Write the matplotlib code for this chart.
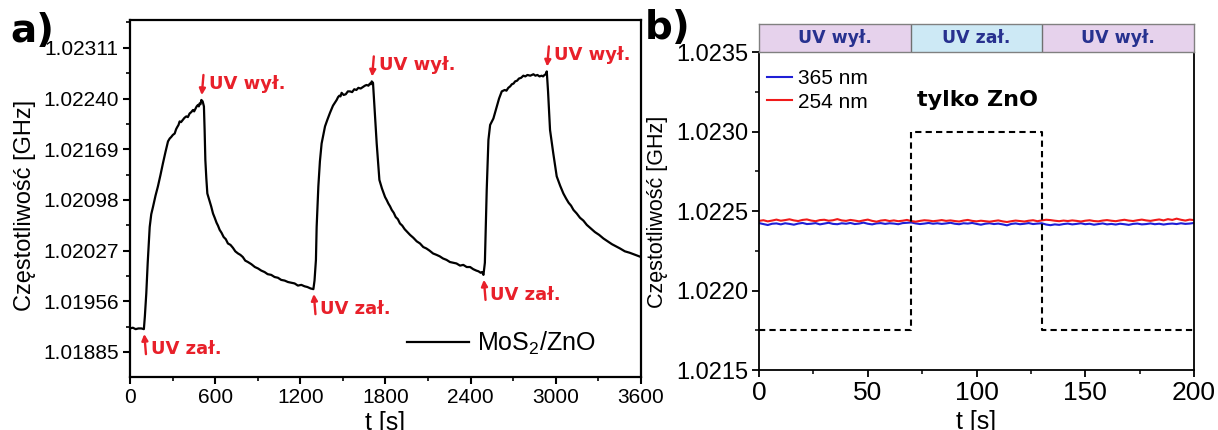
import numpy as np
import matplotlib
matplotlib.use('Agg')
import matplotlib.pyplot as plt
from matplotlib.ticker import AutoMinorLocator

plt.rcParams['font.family'] = ['Liberation Sans', 'DejaVu Sans']
plt.rcParams['mathtext.default'] = 'regular'

RED = '#e8202a'
NAVY = '#27318f'
BOLDFONT = ['DejaVu Sans']

# ---- panel a: MoS2/ZnO response, three UV cycles ----
cyc1_t = [0, 20, 40, 60, 80, 98, 105, 115, 125, 139, 150, 162, 180, 197, 215, 232, 250,
          268, 280, 290, 302, 315, 325, 333, 342, 350, 360, 372, 384, 397, 408, 420, 432, 444, 452,
          462, 470, 479, 485, 490, 497, 503, 512, 521, 526, 531, 538, 545,
          560, 572, 585, 597, 610, 620, 632, 645, 660, 675, 690, 708, 725, 742, 761, 778, 795, 812,
          831, 855, 880, 902, 925, 948, 970, 995, 1019, 1042, 1065, 1090, 1113, 1137, 1160, 1183,
          1207, 1230, 1250, 1272, 1292]
cyc1_f = [1.01918, 1.01919, 1.01917, 1.01918, 1.01918, 1.01917, 1.01935, 1.01967, 1.02010, 1.02060,
          1.02078, 1.02088, 1.02104, 1.02117, 1.02133, 1.02149, 1.02165,
          1.02180, 1.02184, 1.02186, 1.02189, 1.02191, 1.02197, 1.02200, 1.02203, 1.02208, 1.02207,
          1.02210, 1.02213, 1.02215, 1.02214, 1.02219, 1.02221, 1.02224, 1.02222,
          1.02226, 1.02229, 1.02231, 1.02229, 1.02233, 1.02232, 1.02238, 1.02236, 1.02229, 1.02195,
          1.02154, 1.02128, 1.02107,
          1.02097, 1.02089, 1.02079, 1.02073, 1.02066, 1.02062, 1.02056, 1.02052, 1.02046, 1.02043,
          1.02037, 1.02035, 1.02031, 1.02026, 1.02023, 1.02021, 1.02018, 1.02013,
          1.02011, 1.02008, 1.02004, 1.02002, 1.01999, 1.01997, 1.01994, 1.01993, 1.01990, 1.01989,
          1.01986, 1.01985, 1.01983, 1.01982, 1.01981, 1.01978,
          1.01979, 1.01977, 1.01976, 1.01974, 1.01973]
cyc2_t = [1300, 1310, 1315, 1327, 1338, 1350, 1374, 1390, 1409, 1430,
          1456, 1466, 1475, 1483, 1491, 1505, 1520, 1535, 1550, 1565, 1580, 1595, 1609, 1625, 1640,
          1655, 1667, 1680, 1690, 1697, 1703, 1712, 1725, 1738, 1757, 1775,
          1797, 1808, 1820, 1832, 1844, 1858, 1872, 1887, 1902, 1918, 1935, 1954, 1973, 1996, 2020,
          2043, 2066, 2088, 2110, 2135, 2160, 2182, 2205, 2230, 2254, 2277, 2300, 2325, 2348, 2372,
          2396, 2418, 2440, 2455, 2470, 2480, 2490]
cyc2_f = [1.01985, 1.02014, 1.02060, 1.02117, 1.02152, 1.02177, 1.02201, 1.02210, 1.02220, 1.02230,
          1.02238, 1.02242, 1.02244, 1.02243, 1.02248, 1.02245, 1.02246, 1.02250, 1.02250, 1.02249,
          1.02253, 1.02252, 1.02255, 1.02254, 1.02256,
          1.02258, 1.02259, 1.02258, 1.02261, 1.02260, 1.02264, 1.02262, 1.02220, 1.02177, 1.02126,
          1.02114,
          1.02102, 1.02098, 1.02093, 1.02089, 1.02084, 1.02080, 1.02074, 1.02071, 1.02065, 1.02062,
          1.02057, 1.02053, 1.02049, 1.02045, 1.02040,
          1.02037, 1.02032, 1.02030, 1.02027, 1.02023, 1.02021, 1.02019, 1.02016, 1.02014, 1.02011,
          1.02010, 1.02009, 1.02006, 1.02007, 1.02004,
          1.02004, 1.02001, 1.01999, 1.01998, 1.01996, 1.01997, 1.01993]
cyc3_t = [2500, 2508, 2513, 2525, 2537, 2560, 2584, 2600,
          2619, 2630, 2640, 2652, 2665, 2678, 2690, 2702, 2713, 2727, 2740, 2755, 2771, 2785, 2800,
          2820, 2842, 2856, 2870, 2885, 2900, 2910, 2920, 2928, 2936, 2945, 2959, 2970, 2982, 3006,
          3030, 3053, 3072, 3090, 3107, 3124, 3147, 3170, 3194, 3218, 3246, 3275, 3305, 3335, 3365,
          3395, 3423, 3452, 3486, 3520, 3560, 3600]
cyc3_f = [1.02010, 1.02070, 1.02112, 1.02182, 1.02203, 1.02212, 1.02229, 1.02240,
          1.02250, 1.02251, 1.02252, 1.02251, 1.02255, 1.02257, 1.02260, 1.02261, 1.02264, 1.02265,
          1.02268, 1.02269, 1.02272, 1.02271, 1.02273,
          1.02272, 1.02274, 1.02272, 1.02273, 1.02271, 1.02272, 1.02271, 1.02273, 1.02274, 1.02278,
          1.02250, 1.02196, 1.02180, 1.02163, 1.02131,
          1.02118, 1.02107, 1.02100, 1.02094, 1.02090, 1.02084, 1.02079, 1.02073, 1.02069, 1.02063,
          1.02058, 1.02053, 1.02049, 1.02044, 1.02040,
          1.02036, 1.02033, 1.02030, 1.02026, 1.02024, 1.02021, 1.02018]
uv_on_t = [98, 1292, 2490]
uv_off_t = [503, 1703, 2936]
a_xticks = [0, 600, 1200, 1800, 2400, 3000, 3600]
a_yticks = [1.01885, 1.01956, 1.02027, 1.02098, 1.02169, 1.02240, 1.02311]

# ---- panel b: ZnO only ----
b_t = np.arange(0, 201, 2)
b_365 = [1.022424, 1.022418, 1.022412, 1.022420, 1.022422, 1.022416, 1.022423, 1.022419, 1.022414, 1.022421, 1.022425,
         1.022418, 1.022420, 1.022424, 1.022416, 1.022421, 1.022426, 1.022419, 1.022417, 1.022423, 1.022420,
         1.022425, 1.022418, 1.022421, 1.022427, 1.022420, 1.022416, 1.022422, 1.022424, 1.022419, 1.022423,
         1.022421, 1.022417, 1.022424, 1.022426, 1.022428, 1.022422, 1.022418, 1.022421, 1.022425, 1.022420,
         1.022423, 1.022419, 1.022422, 1.022426, 1.022420, 1.022417, 1.022423, 1.022421, 1.022425, 1.022419,
         1.022414, 1.022420, 1.022423, 1.022418, 1.022421, 1.022416, 1.022410, 1.022419, 1.022422, 1.022417,
         1.022420, 1.022424, 1.022418, 1.022421, 1.022423, 1.022415, 1.022411, 1.022416, 1.022413, 1.022418,
         1.022421, 1.022416, 1.022419, 1.022423, 1.022417, 1.022420, 1.022414, 1.022418, 1.022422, 1.022416,
         1.022419, 1.022415, 1.022420, 1.022417, 1.022413, 1.022419, 1.022421, 1.022416, 1.022418, 1.022422,
         1.022417, 1.022420, 1.022415, 1.022419, 1.022421, 1.022418, 1.022423, 1.022419, 1.022421, 1.022425]
b_254 = [1.022438, 1.022442, 1.022435, 1.022440, 1.022446, 1.022439, 1.022443, 1.022448, 1.022441, 1.022437, 1.022444,
         1.022447, 1.022440, 1.022436, 1.022443, 1.022445, 1.022439, 1.022442, 1.022449, 1.022441, 1.022438,
         1.022444, 1.022440, 1.022435, 1.022441, 1.022446, 1.022438, 1.022433, 1.022440, 1.022443, 1.022437,
         1.022441, 1.022436, 1.022439, 1.022444, 1.022437, 1.022433, 1.022438, 1.022442, 1.022440, 1.022436,
         1.022439, 1.022443, 1.022438, 1.022441, 1.022437, 1.022434, 1.022440, 1.022444, 1.022438, 1.022435,
         1.022439, 1.022436, 1.022433, 1.022437, 1.022441, 1.022435, 1.022431, 1.022436, 1.022440, 1.022437,
         1.022434, 1.022439, 1.022442, 1.022436, 1.022441, 1.022445, 1.022443, 1.022439, 1.022436, 1.022440,
         1.022437, 1.022441, 1.022438, 1.022434, 1.022439, 1.022442, 1.022437, 1.022435, 1.022440, 1.022443,
         1.022439, 1.022436, 1.022441, 1.022445, 1.022440, 1.022437, 1.022442, 1.022446, 1.022441, 1.022438,
         1.022443, 1.022447, 1.022441, 1.022449, 1.022444, 1.022452, 1.022445, 1.022440, 1.022446, 1.022443]
step_t = [0, 70, 130, 200]
step_f = [1.02175, 1.02300, 1.02175, 1.02175]
phase_edges = [0, 70, 130, 200]
phase_labels = ['UV wył.', 'UV zał.', 'UV wył.']
phase_colors = ['#e6d2ec', '#cde9f5', '#e6d2ec']

a_t = cyc1_t + cyc2_t + cyc3_t
a_f = cyc1_f + cyc2_f + cyc3_f
assert len(a_t) == len(a_f)

fig = plt.figure(figsize=(12.18, 4.30), dpi=100)

# ================= a) =================
ax = fig.add_axes([0.1067, 0.1233, 0.4196, 0.8302])
ax.plot(a_t, a_f, color='black', lw=1.6, label='MoS$_2$/ZnO')
ax.set_xlim(0, 3600)
ax.set_ylim(1.0185, 1.0235)
ax.set_xticks(a_xticks)
ax.set_yticks(a_yticks)
ax.set_yticklabels(['%.5f' % v for v in a_yticks])
ax.xaxis.set_minor_locator(AutoMinorLocator(2))
ax.yaxis.set_minor_locator(AutoMinorLocator(2))
ax.tick_params(which='major', direction='out', length=5, width=1.5, labelsize=15, pad=3)
ax.tick_params(which='minor', direction='out', length=3, width=1.2)
for s in ax.spines.values():
    s.set_linewidth(1.6)
ax.set_ylabel('Częstotliwość [GHz]', fontsize=17)
ax.yaxis.set_label_coords(-0.184, 0.48)
ax.set_xlabel('t [s]', fontsize=18, va='top')
ax.xaxis.set_label_coords(0.5, -0.095)

# UV on / off arrows, placed at the curve itself
for t in uv_on_t:
    v = np.interp(t, a_t, a_f)
    ax.annotate('', xy=(t, v), xytext=(1.5, -18), textcoords='offset points',
                arrowprops=dict(arrowstyle='-|>', color=RED, lw=1.7, shrinkA=0, shrinkB=3.5, mutation_scale=9))
    ax.annotate('UV zał.', xy=(t, v), xytext=(5, -14.5), textcoords='offset points',
                ha='left', va='center', color=RED, fontsize=13, fontweight='bold', family=BOLDFONT)
for t in uv_off_t:
    v = np.interp(t, a_t, a_f)
    ax.annotate('', xy=(t, v), xytext=(1.5, 18), textcoords='offset points',
                arrowprops=dict(arrowstyle='-|>', color=RED, lw=1.7, shrinkA=0, shrinkB=3.5, mutation_scale=9))
    ax.annotate('UV wył.', xy=(t, v), xytext=(5.5, 11.5), textcoords='offset points',
                ha='left', va='center', color=RED, fontsize=13, fontweight='bold', family=BOLDFONT)

ax.legend(loc='center left', bbox_to_anchor=(0.542, 0.095), frameon=False, fontsize=18,
          handlelength=2.5, handletextpad=0.3, borderpad=0, borderaxespad=0)

# ================= b) =================
bx = fig.add_axes([0.6232, 0.1395, 0.3571, 0.7395])
bx.plot(b_t, b_365, color='#1f1fd6', lw=1.5, label='365 nm')
bx.plot(b_t, b_254, color='#f01a1a', lw=1.5, label='254 nm')
bx.step(step_t, step_f, where='post', color='black', lw=1.5, ls=(0, (3, 2)))
bx.set_xlim(0, 200)
bx.set_ylim(1.0215, 1.0235)
bx.set_xticks([0, 50, 100, 150, 200])
bx.set_yticks([1.0215, 1.0220, 1.0225, 1.0230, 1.0235])
bx.set_yticklabels(['1.0215', '1.0220', '1.0225', '1.0230', '1.0235'])
bx.xaxis.set_minor_locator(AutoMinorLocator(2))
bx.yaxis.set_minor_locator(AutoMinorLocator(2))
bx.tick_params(which='major', direction='out', length=5, width=1.3, pad=3)
bx.tick_params(axis='x', labelsize=19)
bx.tick_params(axis='y', labelsize=17)
bx.tick_params(which='minor', direction='out', length=3, width=1.1)
for s in bx.spines.values():
    s.set_linewidth(1.3)
bx.set_ylabel('Częstotliwość [GHz]', fontsize=15.5)
bx.yaxis.set_label_coords(-0.209, 0.497)
bx.set_xlabel('t [s]', fontsize=18, va='top')
bx.xaxis.set_label_coords(0.5, -0.126)
bx.text(100.5, 1.02320, 'tylko ZnO', ha='center', va='center', fontsize=16,
        fontweight='bold', family=BOLDFONT)
bx.legend(loc='center left', bbox_to_anchor=(0.018, 0.879), frameon=False, fontsize=15,
          handlelength=1.2, handletextpad=0.3, labelspacing=0.2, borderpad=0, borderaxespad=0)

# phase band above panel b
band = fig.add_axes([0.6232, 0.8791, 0.3571, 0.0651], sharex=bx)
for i in range(len(phase_labels)):
    band.axvspan(phase_edges[i], phase_edges[i + 1], color=phase_colors[i], lw=0)
    band.text((phase_edges[i] + phase_edges[i + 1]) / 2, 0.5, phase_labels[i], ha='center', va='center',
              color=NAVY, fontsize=12.5, fontweight='bold', family=BOLDFONT)
for e in phase_edges[1:-1]:
    band.axvline(e, color='#707070', lw=1)
band.set_ylim(0, 1)
band.tick_params(which='both', bottom=False, left=False, labelbottom=False, labelleft=False)
for s in band.spines.values():
    s.set_color('#808080')
    s.set_linewidth(1)

fig.text(10 / 1218, 1 - 12 / 430, 'a)', ha='left', va='top', fontsize=28, fontweight='bold', family=BOLDFONT)
fig.text(645 / 1218, 1 - 9 / 430, 'b)', ha='left', va='top', fontsize=28, fontweight='bold', family=BOLDFONT)

fig.savefig('out.png', dpi=100)
